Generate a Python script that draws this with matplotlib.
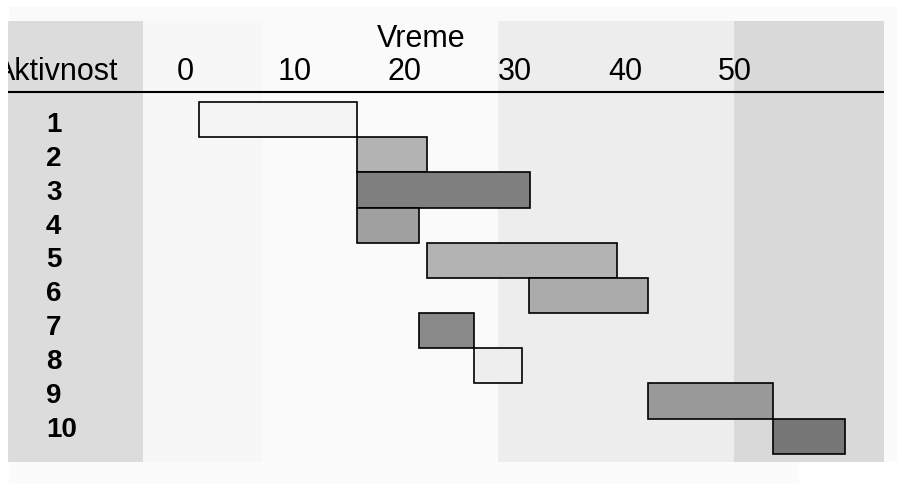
import matplotlib
matplotlib.use("Agg")
import matplotlib.pyplot as plt
from matplotlib.patches import Rectangle

plt.rcParams['font.family'] = ['Liberation Sans Narrow', 'Liberation Sans', 'DejaVu Sans']

# activity data (time units)
activities = ['1', '2', '3', '4', '5', '6', '7', '8', '9', '10']
starts = [1.25, 15.6, 15.6, 15.6, 22.0, 31.3, 21.3, 26.3, 42.05, 53.5]
ends = [15.6, 22.0, 31.35, 21.3, 39.25, 42.05, 26.3, 30.6, 53.5, 60.0]
bar_colors = ['#f3f3f3', '#b3b3b3', '#7f7f7f', '#a0a0a0', '#b3b3b3',
              '#ababab', '#898989', '#eeeeee', '#999999', '#777777']
time_ticks = [0, 10, 20, 30, 40, 50]

W, H = 899, 484


def fig_rect(x0, y0, x1, y1):
    return [x0 / W, 1 - y1 / H, (x1 - x0) / W, (y1 - y0) / H]


fig = plt.figure(figsize=(W / 100, H / 100), dpi=100)
fig.patch.set_facecolor('white')

# faint page panels behind the table
for (x0, y0, x1, y1), c in [((9, 7, 897, 462), '#fafafa'), ((9, 462, 799, 484), '#fbfbfb')]:
    fig.patches.append(Rectangle((x0 / W, 1 - y1 / H), (x1 - x0) / W, (y1 - y0) / H,
                                 transform=fig.transFigure, facecolor=c, edgecolor='none', zorder=-5))

ax = fig.add_axes(fig_rect(8, 21, 884, 462))
ax.set_zorder(1)
ax.set_xlim(-16.09, 63.55)
ax.set_ylim(9.736, -2.803)
ax.axis('off')

# column shading
bands = [(-16.09, -3.82, '#dcdcdc'), (-3.82, 7.0, '#f7f7f7'), (7.0, 28.45, '#fafafa'),
         (28.45, 49.9, '#ededed'), (49.9, 63.55, '#d9d9d9')]
for x0, x1, c in bands:
    ax.axvspan(x0, x1, color=c, lw=0, zorder=0)

rows = list(range(len(activities)))
durations = [e - s for s, e in zip(starts, ends)]
ax.barh(rows, durations, left=starts, height=1.0, color=bar_colors,
        edgecolor='black', linewidth=1.2, zorder=3)

# header
ax.axhline(-0.776, color='black', lw=1.5, zorder=4)
ax.text(21.5, -2.072, 'Vreme', ha='center', va='baseline', fontsize=22)
ax.text(-6.09, -1.1255, 'Aktivnost', ha='right', va='baseline', fontsize=22, clip_on=True)
for t in time_ticks:
    ax.text(t, -1.1255, str(t), ha='center', va='baseline', fontsize=22)

# row labels
for i, name in enumerate(activities):
    ax.text(-12.64, 0.353 + 0.9628 * i, name, ha='left', va='baseline',
            fontsize=20, fontweight='bold')

fig.savefig('out.png', dpi=100)
